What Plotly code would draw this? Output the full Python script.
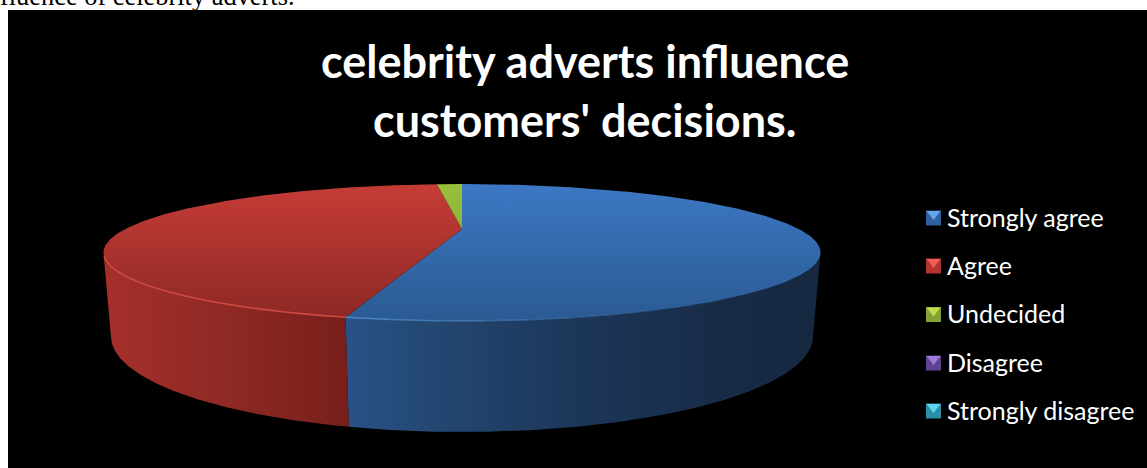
import numpy as np
import plotly.graph_objects as go

# Survey shares, in percent
categories = ["Strongly agree", "Agree", "Undecided", "Disagree", "Strongly disagree"]
shares = [53.7, 44.7, 1.6, 0, 0]

top_colors = [
    ("#3c78c4", "#2a5a92"),
    ("#c63c37", "#8c2824"),
    ("#98be3c", "#7da032"),
    ("#7a55a8", "#5a3d80"),
    ("#38a8c8", "#28809a"),
]
side_colors = [
    [(0.0, "#29528a"), (0.12, "#254b78"), (0.45, "#1d385c"), (0.8, "#172b46"), (1.0, "#162840")],
    [(0.0, "#a62f2a"), (0.5, "#8f2924"), (1.0, "#781f1b")],
    [(0.0, "#7da032"), (1.0, "#7da032")],
    [(0.0, "#5a3d80"), (1.0, "#5a3d80")],
    [(0.0, "#28809a"), (1.0, "#28809a")],
]
rim_colors = ["#4a86c4", "#cf4a42", "#98be3c", "#7a55a8", "#38a8c8"]
rim_fade = [(1.0, 0.0), (1.0, 1.0), (1.0, 1.0), (1.0, 1.0), (1.0, 1.0)]
legend_base = ["#2f5f9c", "#b2332f", "#83a236", "#5f4390", "#2b8fa8"]
legend_light = ["#63a6ee", "#ee5f58", "#c4dc50", "#a07ad8", "#5cd8f4"]

title_lines = ["celebrity adverts influence", "customers' decisions."]
page_caption = "fluence of celebrity adverts."

# Perspective projection of the disc onto the page (pixel coordinates)
CX, CY = 462.0, 229.0
SCALE_X, SCALE_Y = 336.8, 60.4
TILT = 0.343
DEPTH_W, DEPTH_Y = 0.019, 76.8


def project(angle_deg, z=0.0):
    """Project a rim point; angle runs clockwise from the far edge, z=1 is the base."""
    a = np.radians(angle_deg)
    u, v = np.sin(a), np.cos(a)
    w = 1 + TILT * v + DEPTH_W * z
    return CX + SCALE_X * u / w, CY - (SCALE_Y * v - DEPTH_Y * z) / w


def arc(a0, a1, z=0.0):
    return project(np.linspace(a0, a1, max(int(abs(a1 - a0) * 2), 2)), z)


fig = go.Figure()

cum = np.concatenate([[0], np.cumsum(shares)]) * 3.6
visible_from = np.degrees(np.arccos(-TILT))
visible_to = 360 - visible_from

# Outer wall of each slice, only where it faces the viewer
for i, name in enumerate(categories):
    a0, a1 = max(cum[i], visible_from), min(cum[i + 1], visible_to)
    if shares[i] == 0 or a1 <= a0:
        continue
    xt, yt = arc(a0, a1)
    xb, yb = arc(a0, a1, 1.0)
    xs = np.concatenate([xt, xb[::-1]])
    ys = np.concatenate([yt, yb[::-1]])
    fig.add_trace(go.Scatter(
        x=xs, y=ys, mode="lines", line=dict(width=0), fill="toself",
        fillgradient=dict(type="horizontal", colorscale=side_colors[i],
                          start=xs.min(), stop=xs.max()),
        hoverinfo="skip", showlegend=False))

# Top face of each slice, shaded from the far edge to the near edge
y_far, y_near = float(project(0.0)[1]), float(project(180.0)[1])
for i, name in enumerate(categories):
    if shares[i] == 0:
        continue
    xa, ya = arc(cum[i], cum[i + 1])
    xs = np.concatenate([[CX], xa, [CX]])
    ys = np.concatenate([[CY], ya, [CY]])
    fig.add_trace(go.Scatter(
        x=xs, y=ys, mode="lines", line=dict(width=0), fill="toself",
        fillgradient=dict(type="vertical",
                          colorscale=[(0.0, top_colors[i][0]), (1.0, top_colors[i][1])],
                          start=y_far, stop=y_near),
        hoverinfo="skip", showlegend=False))

# Lit rim along the near edge of the top face, fading where the light falls off
SEGMENTS = 14
for i, name in enumerate(categories):
    a0, a1 = max(cum[i], visible_from + 10), min(cum[i + 1], visible_to - 3)
    if shares[i] == 0 or a1 <= a0:
        continue
    edges = np.linspace(a0, a1, SEGMENTS + 1)
    fades = np.linspace(rim_fade[i][1], rim_fade[i][0], SEGMENTS) ** 2
    for s in range(SEGMENTS):
        xa, ya = arc(edges[s], edges[s + 1])
        fig.add_trace(go.Scatter(
            x=xa, y=ya, mode="lines", opacity=float(fades[s]),
            line=dict(width=1.6, color=rim_colors[i]),
            hoverinfo="skip", showlegend=False))

# Legend column: bevelled swatches with labels
legend_x = 933.5
legend_y = [218, 266, 314.5, 363, 411]
for i, name in enumerate(categories):
    fig.add_trace(go.Scatter(
        x=[legend_x], y=[legend_y[i]], mode="markers",
        marker=dict(symbol="square", size=15, color=legend_base[i], line=dict(width=0)),
        hoverinfo="skip", showlegend=False))
    fig.add_trace(go.Scatter(
        x=[legend_x], y=[legend_y[i] - 4], mode="markers",
        marker=dict(symbol="triangle-down", size=12, color=legend_light[i], line=dict(width=0)),
        hoverinfo="skip", showlegend=False))
    fig.add_annotation(x=945, y=legend_y[i] - 1.5, text=name, showarrow=False, xanchor="left",
                       yanchor="middle", font=dict(family="Lato", size=25, color="white"))

for text, y in zip(title_lines, [61, 120]):
    fig.add_annotation(x=584.5, y=y, text=f"<b>{text}</b>", showarrow=False,
                       xanchor="center", yanchor="middle",
                       font=dict(family="Lato", size=45, color="white"))

# Tail of the running text above the chart panel, cut by the top of the page
fig.add_annotation(x=0, y=0, xshift=-2, yshift=4, text=page_caption, showarrow=False,
                   xanchor="left", yanchor="middle",
                   font=dict(family="Liberation Serif", size=26.4, color="black"))

fig.update_layout(
    width=1147, height=468, margin=dict(l=0, r=0, t=0, b=0),
    paper_bgcolor="white", plot_bgcolor="white",
    xaxis=dict(range=[0, 1147], visible=False, fixedrange=True),
    yaxis=dict(range=[468, 0], visible=False, fixedrange=True),
    shapes=[dict(type="rect", x0=8, x1=1147, y0=10, y1=468, layer="below",
                 fillcolor="black", line=dict(width=0))],
    showlegend=False,
)

fig.write_html("out.html", config=dict(displayModeBar=False))
